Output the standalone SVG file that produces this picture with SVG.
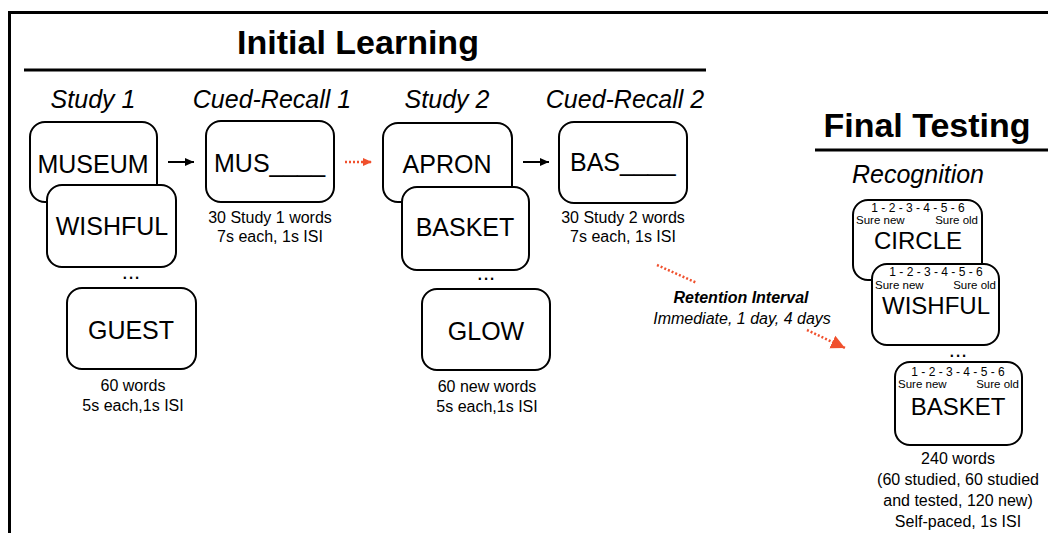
<svg xmlns="http://www.w3.org/2000/svg" width="1048" height="533" viewBox="0 0 1048 533">
<defs>
<style>
text{font-family:"Liberation Sans",Arial,Helvetica,sans-serif;fill:#000}
.title{font-size:34px;font-weight:bold;text-anchor:middle}
.head{font-size:25px;font-style:italic;text-anchor:middle}
.word{font-size:25px}
.mid{text-anchor:middle}
.note{font-size:16px;text-anchor:middle}
.scale{font-size:12px;text-anchor:middle}
.sure{font-size:11.5px}
.dots{font-size:22px;text-anchor:middle}
.box{fill:#fff;stroke:#000;stroke-width:2}
.rule{stroke:#000;stroke-width:3;fill:none}
.arrow{stroke:#000;stroke-width:2;fill:none}
.red{stroke:#F0502D;stroke-width:2.5;fill:none;stroke-dasharray:2 2}
</style>
<marker id="ah" markerUnits="userSpaceOnUse" markerWidth="10" markerHeight="10" refX="9" refY="5" orient="auto">
<path d="M0,1 L9,5 L0,9 Z" fill="#000"/>
</marker>
<marker id="rh" markerUnits="userSpaceOnUse" markerWidth="10" markerHeight="10" refX="9" refY="5" orient="auto">
<path d="M0,1 L9,5 L0,9 Z" fill="#F0502D"/>
</marker>
<marker id="rh2" markerUnits="userSpaceOnUse" markerWidth="16" markerHeight="16" refX="14" refY="8" orient="auto">
<path d="M0,1 L14,8 L0,15 Z" fill="#F0502D"/>
</marker>
</defs>

<g id="frame">
<path class="rule" d="M9.5,533 V12.5 H1048"/>
</g>

<g id="initial-learning-title">
<text class="title" x="358" y="54">Initial Learning</text>
<line class="rule" x1="24" y1="70" x2="706" y2="70"/>
</g>

<g id="final-testing-title">
<text class="title" x="927" y="137">Final Testing</text>
<line class="rule" x1="815" y1="150" x2="1048" y2="150"/>
</g>

<g id="headings">
<text class="head" x="93" y="108">Study 1</text>
<text class="head" x="272" y="108">Cued-Recall 1</text>
<text class="head" x="447" y="108">Study 2</text>
<text class="head" x="625" y="108">Cued-Recall 2</text>
<text class="head" x="918" y="183">Recognition</text>
</g>

<g id="study1">
<rect class="box" x="30" y="122" width="127" height="80" rx="15"/>
<text class="word mid" x="93" y="173">MUSEUM</text>
<rect class="box" x="47" y="185" width="129" height="82" rx="15"/>
<text class="word mid" x="112" y="235">WISHFUL</text>
<text class="dots" x="131" y="279">...</text>
<rect class="box" x="67" y="288" width="129" height="81" rx="15"/>
<text class="word mid" x="131" y="339">GUEST</text>
<text class="note" x="133" y="391">60 words</text>
<text class="note" x="133" y="411">5s each,1s ISI</text>
</g>

<g id="cued-recall1">
<rect class="box" x="206" y="121" width="128" height="81" rx="15"/>
<text class="word" x="214" y="172">MUS____</text>
<text class="note" x="270" y="223">30 Study 1 words</text>
<text class="note" x="270" y="242">7s each, 1s ISI</text>
</g>

<g id="study2">
<rect class="box" x="383" y="123" width="129" height="79" rx="15"/>
<text class="word mid" x="447" y="173">APRON</text>
<rect class="box" x="402" y="187" width="127" height="83" rx="15"/>
<text class="word mid" x="465" y="236">BASKET</text>
<text class="dots" x="486" y="280">...</text>
<rect class="box" x="422" y="289" width="128" height="81" rx="15"/>
<text class="word mid" x="486" y="340">GLOW</text>
<text class="note" x="487" y="392">60 new words</text>
<text class="note" x="487" y="412">5s each,1s ISI</text>
</g>

<g id="cued-recall2">
<rect class="box" x="559" y="122" width="128" height="81" rx="15"/>
<text class="word" x="570" y="171">BAS____</text>
<text class="note" x="623" y="223">30 Study 2 words</text>
<text class="note" x="623" y="242">7s each, 1s ISI</text>
</g>

<g id="retention">
<text x="741" y="303" style="font-size:16px;font-weight:bold;font-style:italic;text-anchor:middle">Retention Interval</text>
<text x="742" y="324" style="font-size:16px;font-style:italic;text-anchor:middle">Immediate, 1 day, 4 days</text>
</g>

<g id="recognition">
<rect class="box" x="853" y="200" width="129" height="80" rx="15"/>
<text class="scale" x="918" y="212">1 - 2 - 3 - 4 - 5 - 6</text>
<text class="sure" x="856" y="224">Sure new</text>
<text class="sure" x="978" y="224" text-anchor="end">Sure old</text>
<text class="word mid" x="918" y="249" style="font-size:24px">CIRCLE</text>
<rect class="box" x="872" y="264" width="127" height="81" rx="15"/>
<text class="scale" x="936" y="276">1 - 2 - 3 - 4 - 5 - 6</text>
<text class="sure" x="875" y="289">Sure new</text>
<text class="sure" x="996" y="289" text-anchor="end">Sure old</text>
<text class="word mid" x="936" y="314" style="font-size:24px">WISHFUL</text>
<text class="dots" x="958" y="357">...</text>
<rect class="box" x="895" y="362" width="127" height="83" rx="15"/>
<text class="scale" x="958" y="376">1 - 2 - 3 - 4 - 5 - 6</text>
<text class="sure" x="898" y="388">Sure new</text>
<text class="sure" x="1019" y="388" text-anchor="end">Sure old</text>
<text class="word mid" x="958" y="415" style="font-size:24px">BASKET</text>
<text class="note" x="958" y="464">240 words</text>
<text class="note" x="958" y="485">(60 studied, 60 studied</text>
<text class="note" x="958" y="506">and tested, 120 new)</text>
<text class="note" x="958" y="527">Self-paced, 1s ISI</text>
</g>

<g id="connectors">
<line class="arrow" x1="168" y1="162" x2="194" y2="162" marker-end="url(#ah)"/>
<line class="arrow" x1="523" y1="162" x2="549" y2="162" marker-end="url(#ah)"/>
<line class="red" x1="345" y1="162" x2="372" y2="162" marker-end="url(#rh)"/>
<line class="red" x1="657" y1="265" x2="697" y2="283"/>
<line class="red" x1="807" y1="330" x2="845" y2="348" marker-end="url(#rh2)"/>
</g>
</svg>
